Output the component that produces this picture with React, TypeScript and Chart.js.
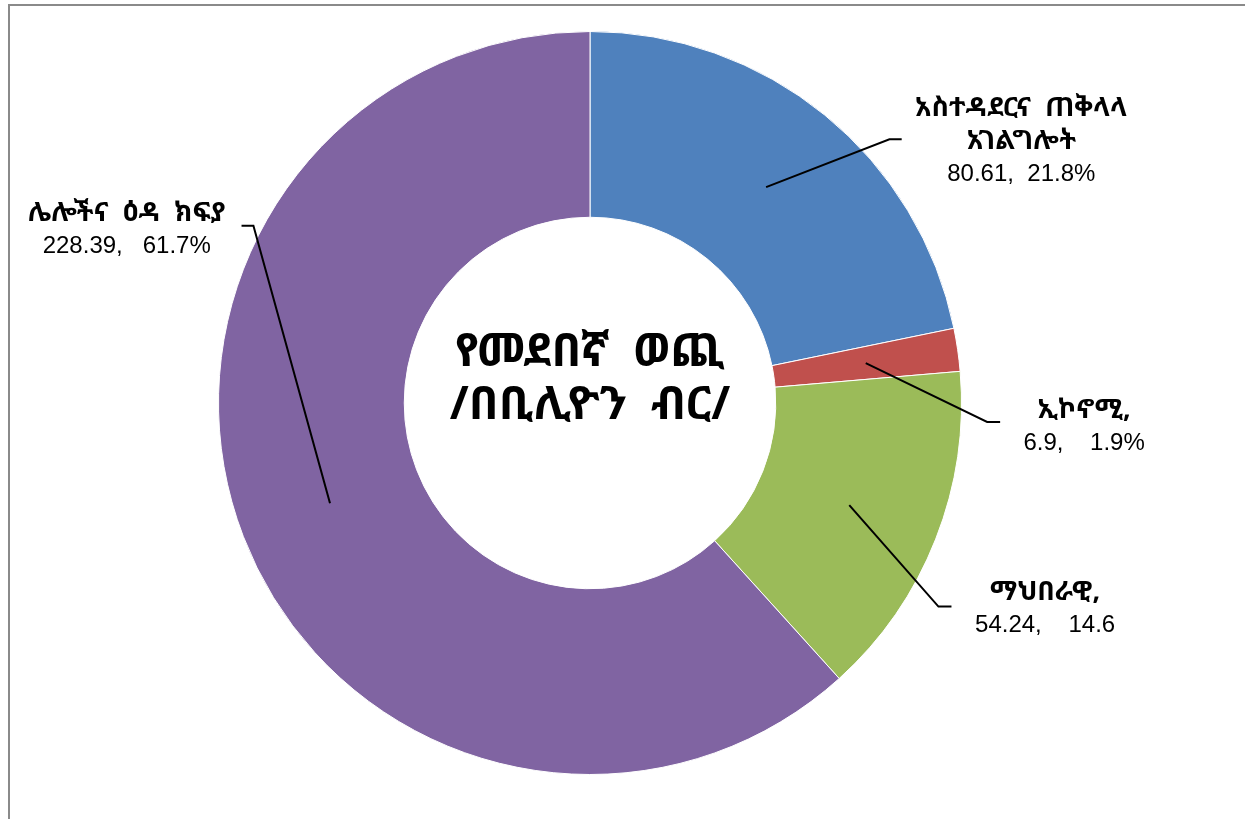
import React, { useEffect, useRef } from "react";
import { Chart, registerables } from "chart.js";

Chart.register(...registerables);

const categories = ["አስተዳደርና ጠቅላላ አገልግሎት", "ኢኮኖሚ", "ማህበራዊ", "ሌሎችና ዕዳ ክፍያ"];
const values = [80.61, 6.9, 54.24, 228.39];
const labelLines: string[][] = [
  ["አስተዳደርና  ጠቅላላ", "አገልግሎት"],
  ["ኢኮኖሚ,"],
  ["ማህበራዊ,"],
  ["ሌሎችና  ዕዳ  ክፍያ"],
];
const valueLines = ["80.61,  21.8%", "6.9,    1.9%", "54.24,    14.6", "228.39,   61.7%"];
const colors = ["#4F81BD", "#C0504D", "#9BBB59", "#8064A2"];
const centerTitle = ["የመደበኛ  ወጪ", "/በቢሊዮን  ብር/"];

// label layout: offsets from chart center in units of the outer radius
const layout = [
  { bend: [0.806, -0.71], end: [0.839, -0.71], text: [1.161, -0.793] },
  { bend: [1.069, 0.051], end: [1.104, 0.051], text: [1.33, 0.02] },
  { bend: [0.938, 0.548], end: [0.973, 0.548], text: [1.225, 0.51] },
  { bend: [-0.906, -0.477], end: [-0.938, -0.477], text: [-1.247, -0.511] },
];

const ETH = '"Noto Sans Ethiopic", "Abyssinica SIL", FreeSerif, "DejaVu Sans", serif';
const NUM = '"Liberation Sans", Arial, sans-serif';

const labelPlugin = {
  id: "labelPlugin",
  afterDraw(chart: any) {
    const ctx = chart.ctx;
    const meta = chart.getDatasetMeta(0);
    const arc0 = meta.data[0];
    const cx = arc0.x;
    const cy = arc0.y;
    const R = arc0.outerRadius;
    ctx.save();
    meta.data.forEach((arc: any, i: number) => {
      const p = arc.getCenterPoint();
      const L = layout[i];
      ctx.beginPath();
      ctx.strokeStyle = "#000";
      ctx.lineWidth = 2;
      ctx.moveTo(p.x, p.y);
      ctx.lineTo(cx + L.bend[0] * R, cy + L.bend[1] * R);
      ctx.lineTo(cx + L.end[0] * R, cy + L.end[1] * R);
      ctx.stroke();
      const tx = cx + L.text[0] * R;
      let ty = cy + L.text[1] * R;
      ctx.textAlign = "center";
      ctx.textBaseline = "middle";
      ctx.fillStyle = "#000";
      labelLines[i].forEach((ln) => {
        ctx.font = `bold 27px ${ETH}`;
        ctx.fillText(ln, tx, ty);
        ty += 33;
      });
      ctx.font = `24px ${NUM}`;
      ctx.fillText(valueLines[i], tx, ty);
    });
    ctx.font = `bold 46px ${ETH}`;
    ctx.textAlign = "center";
    ctx.textBaseline = "middle";
    ctx.fillText(centerTitle[0], cx, cy - 50);
    ctx.fillText(centerTitle[1], cx, cy + 3);
    ctx.restore();
  },
};

export default function App() {
  const ref = useRef<HTMLCanvasElement>(null);
  useEffect(() => {
    const chart = new Chart(ref.current!, {
      type: "doughnut",
      data: {
        labels: categories,
        datasets: [
          {
            data: values,
            backgroundColor: colors,
            borderColor: "#ffffff",
            borderWidth: 1,
          },
        ],
      },
      options: {
        animation: false,
        responsive: false,
        maintainAspectRatio: false,
        cutout: "50%",
        layout: { padding: { top: 31, bottom: 44, left: 218, right: 283 } },
        plugins: { legend: { display: false }, tooltip: { enabled: false } },
      },
      plugins: [labelPlugin],
    });
    return () => chart.destroy();
  }, []);
  return (
    <div style={{ position: "fixed", left: 0, top: 0, width: 1245, height: 819, background: "#fff" }}>
      <div
        style={{
          position: "absolute",
          left: 8,
          top: 4,
          width: 1260,
          height: 840,
          border: "2px solid #8a8a8a",
          boxSizing: "border-box",
        }}
      />
      <canvas ref={ref} width={1245} height={819} style={{ position: "absolute", left: 0, top: 0 }} />
    </div>
  );
}
